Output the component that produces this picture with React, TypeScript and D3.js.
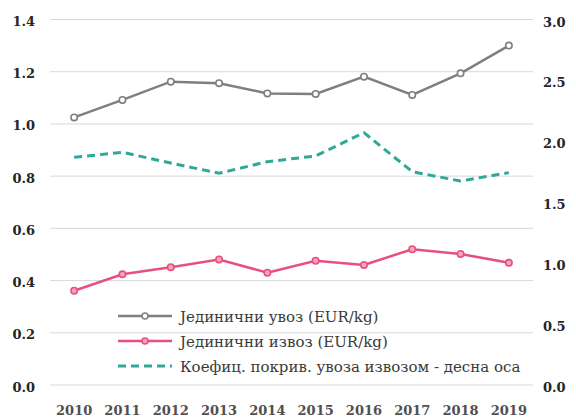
import React from "react";
import * as d3 from "d3";

const years = ["2010", "2011", "2012", "2013", "2014", "2015", "2016", "2017", "2018", "2019"];
const importUnit = [1.025, 1.092, 1.162, 1.156, 1.117, 1.115, 1.181, 1.111, 1.194, 1.3];
const exportUnit = [0.361, 0.424, 0.451, 0.481, 0.43, 0.476, 0.46, 0.52, 0.502, 0.468];
const coverage = [1.869, 1.91, 1.822, 1.738, 1.833, 1.88, 2.071, 1.751, 1.674, 1.743];
const leftTicks = [0, 0.2, 0.4, 0.6, 0.8, 1.0, 1.2, 1.4];
const rightTicks = [0, 0.5, 1.0, 1.5, 2.0, 2.5, 3.0];
const legendLabels = [
  "Јединични увоз (EUR/kg)",
  "Јединични извоз (EUR/kg)",
  "Коефиц. покрив. увоза извозом - десна оса",
];

const W = 576;
const H = 418;
const FONT = "'DejaVu Serif', serif";
const GRAY = "#7f7f7f";
const PINK = "#e8507c";
const TEAL = "#2fa89a";

export default function App() {
  const x = d3.scaleBand<string>().domain(years).range([50, 533]);
  const yL = d3.scaleLinear().domain([0, 1.4]).range([385, 19.5]);
  const yR = d3.scaleLinear().domain([0, 3]).range([385, 19.5]);
  const cx = (d: string) => (x(d) ?? 0) + x.bandwidth() / 2;

  const lineL = d3
    .line<number>()
    .x((_, i) => cx(years[i]))
    .y((d) => yL(d));
  const lineR = d3
    .line<number>()
    .x((_, i) => cx(years[i]))
    .y((d) => yR(d));

  const legendY = [316, 341, 366];

  return (
    <svg
      width={W}
      height={H}
      style={{ position: "absolute", left: 0, top: 0, background: "#fff" }}
      fontFamily={FONT}
    >
      {leftTicks.map((t) => (
        <line key={"g" + t} x1={50} x2={533} y1={yL(t)} y2={yL(t)} stroke="#d9d9d9" strokeWidth={1} />
      ))}
      {leftTicks.map((t) => (
        <text key={"l" + t} x={35} y={yL(t) + 6.5} textAnchor="end" fontSize={13} fontWeight="bold" fill="#262626">
          {d3.format(".1f")(t)}
        </text>
      ))}
      {rightTicks.map((t) => (
        <text key={"r" + t} x={543} y={yR(t) + 7} textAnchor="start" fontSize={13} fontWeight="bold" fill="#262626">
          {d3.format(".1f")(t)}
        </text>
      ))}
      {years.map((yr) => (
        <text key={"x" + yr} x={cx(yr)} y={415} textAnchor="middle" fontSize={13} fontWeight="bold" fill="#505050">
          {yr}
        </text>
      ))}

      <path d={lineR(coverage) ?? ""} fill="none" stroke={TEAL} strokeWidth={3} strokeDasharray="8,5" />
      <path d={lineL(importUnit) ?? ""} fill="none" stroke={GRAY} strokeWidth={2.5} />
      {importUnit.map((v, i) => (
        <circle key={"ip" + i} cx={cx(years[i])} cy={yL(v)} r={3.2} fill="#fff" stroke={GRAY} strokeWidth={1.6} />
      ))}
      <path d={lineL(exportUnit) ?? ""} fill="none" stroke={PINK} strokeWidth={2.5} />
      {exportUnit.map((v, i) => (
        <circle key={"ep" + i} cx={cx(years[i])} cy={yL(v)} r={3.2} fill="#f6a5bf" stroke={PINK} strokeWidth={1.6} />
      ))}

      <g>
        <line x1={118} x2={172} y1={legendY[0]} y2={legendY[0]} stroke={GRAY} strokeWidth={2.5} />
        <circle cx={145} cy={legendY[0]} r={3} fill="#fff" stroke={GRAY} strokeWidth={1.5} />
        <line x1={118} x2={172} y1={legendY[1]} y2={legendY[1]} stroke={PINK} strokeWidth={2.5} />
        <circle cx={145} cy={legendY[1]} r={3} fill="#f6a5bf" stroke={PINK} strokeWidth={1.5} />
        <line x1={118} x2={172} y1={legendY[2]} y2={legendY[2]} stroke={TEAL} strokeWidth={3} strokeDasharray="8,5" />
        {legendLabels.map((l, i) => (
          <text key={"lg" + i} x={180} y={legendY[i] + 5.5} fontSize={15} fill="#3a3a3a">
            {l}
          </text>
        ))}
      </g>
    </svg>
  );
}
